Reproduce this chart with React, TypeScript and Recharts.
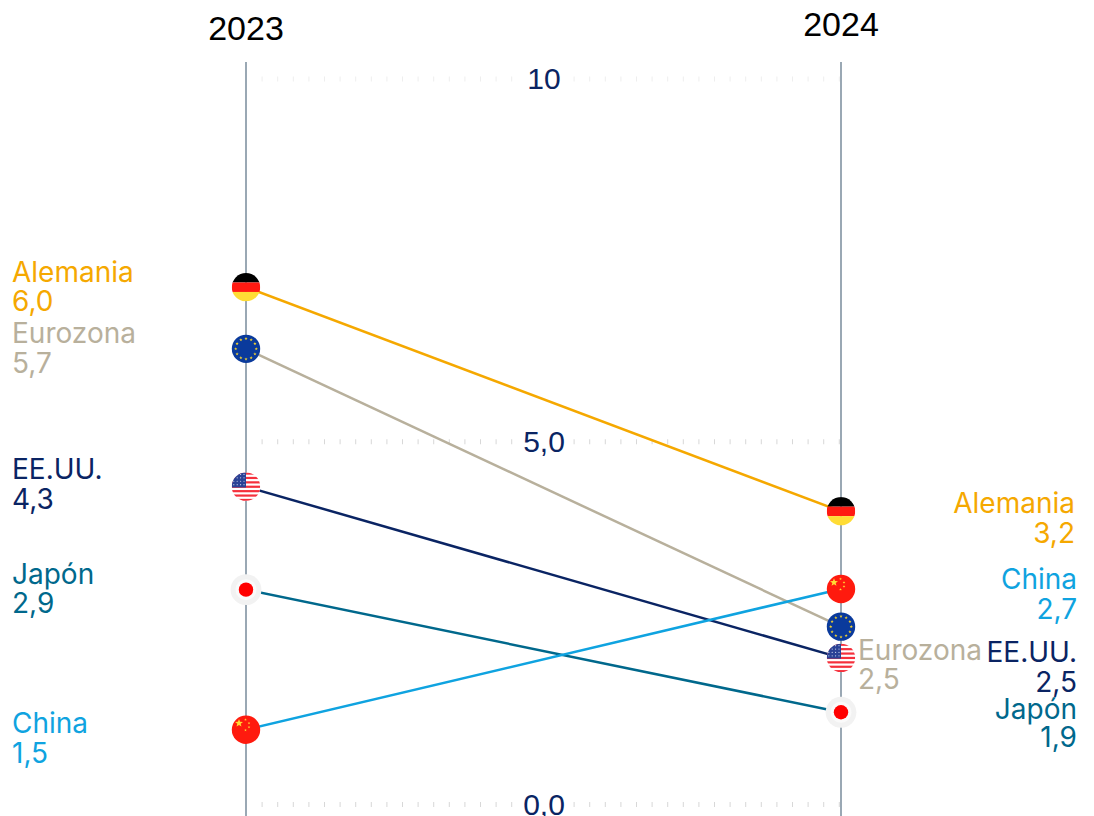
import { LineChart, Line, XAxis, YAxis, ReferenceLine } from 'recharts';

const categories = ['2023', '2024'];

// marker positions as plotted on the 0-10 axis (the printed figures differ)
const alemania = [7.13, 4.04];
const eurozona = [6.28, 2.45];
const eeuu = [4.38, 2.02];
const japon = [2.96, 1.27];
const china = [1.03, 2.97];

// figures printed next to the markers
const alemaniaLabels = ['6,0', '3,2'];
const eurozonaLabels = ['5,7', '2,5'];
const eeuuLabels = ['4,3', '2,5'];
const japonLabels = ['2,9', '1,9'];
const chinaLabels = ['1,5', '2,7'];

const axisTicks = [
  { value: 10, label: '10' },
  { value: 5, label: '5,0' },
  { value: 0, label: '0,0' },
];

const chartData = categories.map((year, i) => ({
  year,
  alemania: alemania[i],
  eurozona: eurozona[i],
  eeuu: eeuu[i],
  japon: japon[i],
  china: china[i],
}));

const FONT = 'Inter, sans-serif';
const AXIS_FONT = '"Liberation Sans", sans-serif';
const NAVY = '#0a2463';

function Star({ x, y, r, fill }: { x: number; y: number; r: number; fill: string }) {
  const pts: string[] = [];
  for (let i = 0; i < 10; i++) {
    const rad = i % 2 === 0 ? r : r * 0.42;
    const a = -Math.PI / 2 + (i * Math.PI) / 5;
    pts.push(`${x + rad * Math.cos(a)},${y + rad * Math.sin(a)}`);
  }
  return <polygon points={pts.join(' ')} fill={fill} />;
}

function Flag({ kind, cx, cy }: { kind: string; cx: number; cy: number }) {
  const id = `clip-${kind}-${Math.round(cx)}`;
  const r = 14.2;
  const clip = (
    <defs>
      <clipPath id={id}>
        <circle cx={cx} cy={cy} r={r} />
      </clipPath>
    </defs>
  );
  if (kind === 'japon') {
    return (
      <g>
        <circle cx={cx} cy={cy} r={15.4} fill="#f2f2f2" />
        <circle cx={cx} cy={cy} r={10.5} fill="#fafafa" />
        <circle cx={cx} cy={cy} r={7.2} fill="#ff0000" />
      </g>
    );
  }
  if (kind === 'alemania') {
    return (
      <g>
        {clip}
        <g clipPath={`url(#${id})`}>
          <rect x={cx - r} y={cy - r} width={2 * r} height={9.5} fill="#000" />
          <rect x={cx - r} y={cy - r + 9.5} width={2 * r} height={9.5} fill="#ff1a12" />
          <rect x={cx - r} y={cy - r + 19} width={2 * r} height={9.5} fill="#ffdc35" />
        </g>
      </g>
    );
  }
  if (kind === 'eurozona') {
    const stars = Array.from({ length: 12 }, (_, i) => (i * Math.PI) / 6);
    return (
      <g>
        <circle cx={cx} cy={cy} r={r} fill="#0a3a9c" />
        {stars.map((a, i) => (
          <Star key={i} x={cx + 10.3 * Math.cos(a)} y={cy + 10.3 * Math.sin(a)} r={1.7} fill="#f0d030" />
        ))}
      </g>
    );
  }
  if (kind === 'china') {
    return (
      <g>
        <circle cx={cx} cy={cy} r={r} fill="#ff1a0e" />
        <Star x={cx - 7} y={cy - 6.5} r={4.2} fill="#ffdc35" />
        <Star x={cx - 0.5} y={cy - 10} r={1.4} fill="#ffdc35" />
        <Star x={cx + 3} y={cy - 6.5} r={1.4} fill="#ffdc35" />
        <Star x={cx + 3} y={cy - 2.5} r={1.4} fill="#ffdc35" />
        <Star x={cx - 0.5} y={cy + 0.5} r={1.4} fill="#ffdc35" />
      </g>
    );
  }
  // EE.UU.
  const stripes = Array.from({ length: 7 }, (_, i) => i);
  const cantonDots = Array.from({ length: 16 }, (_, i) => i);
  return (
    <g>
      {clip}
      <g clipPath={`url(#${id})`}>
        <rect x={cx - r} y={cy - r} width={2 * r} height={2 * r} fill="#fff" />
        {stripes.map((i) => (
          <rect key={i} x={cx - r} y={cy - r + i * 4.4} width={2 * r} height={2.2} fill="#f5303c" />
        ))}
        <rect x={cx - r} y={cy - r} width={r} height={15} fill="#2a4296" />
        {cantonDots.map((i) => (
          <circle
            key={i}
            cx={cx - r + 2 + (i % 4) * 3.4}
            cy={cy - r + 2 + Math.floor(i / 4) * 3.4}
            r={0.6}
            fill="#c8d0e8"
          />
        ))}
      </g>
    </g>
  );
}

// where the two-line labels sit, relative to each marker: name and figure baselines
type LabelPlace = { x: number; anchor: 'start' | 'end'; name: number; value: number };

function seriesLabel(name: string, color: string, printed: string[], places: LabelPlace[]) {
  return (props: any) => {
    const place = places[props.index];
    return (
      <g key={props.index} fontFamily={FONT} fontSize={28} fill={color} textAnchor={place.anchor}>
        <text x={place.x} y={props.y + place.name}>{name}</text>
        <text x={place.x} y={props.y + place.value}>{printed[props.index]}</text>
      </g>
    );
  };
}

function YearTick({ x, payload, index }: any) {
  return (
    <text x={x} y={index === 0 ? 40 : 36} textAnchor="middle" fontFamily={AXIS_FONT} fontSize={34} fill="#000">
      {payload.value}
    </text>
  );
}

function AxisLabel({ viewBox, text }: any) {
  const midX = 544;
  const half = text.length > 2 ? 26 : 23;
  return (
    <g>
      <rect x={midX - half} y={viewBox.y - 12} width={half * 2} height={24} fill="#fff" />
      <text x={midX} y={viewBox.y + 10.5} textAnchor="middle" fontFamily={AXIS_FONT} fontSize={30} fill={NAVY}>
        {text}
      </text>
    </g>
  );
}

export default function App() {
  return (
    <div style={{ position: 'absolute', left: 0, top: 0 }}>
      <LineChart width={1094} height={816} data={chartData} margin={{ top: 32, right: 253, bottom: 0, left: 246 }}>
        <XAxis dataKey="year" orientation="top" axisLine={false} tickLine={false} interval={0} tick={(p: any) => <YearTick {...p} />} height={30} />
        <YAxis hide domain={[-0.16, 10.234]} allowDataOverflow />
        {axisTicks.map((t) => (
          <ReferenceLine
            key={t.value}
            y={t.value}
            stroke={t.value === 10 ? '#eeeeee' : '#d8d8d8'}
            strokeWidth={5}
            strokeDasharray="1 14.6"
            label={<AxisLabel text={t.label} />}
          />
        ))}
        {categories.map((c) => (
          <ReferenceLine key={c} x={c} stroke="#9aa8b4" strokeWidth={2} />
        ))}
        <Line dataKey="alemania" stroke="#f5a800" strokeWidth={2.5} isAnimationActive={false}
          dot={(p: any) => <Flag key={p.index} kind="alemania" cx={p.cx} cy={p.cy} />}
          label={seriesLabel('Alemania', '#f5a800', alemaniaLabels, [
            { x: 12, anchor: 'start', name: -5, value: 24 },
            { x: 1075, anchor: 'end', name: 2, value: 32 },
          ])} />
        <Line dataKey="eurozona" stroke="#b8b09c" strokeWidth={2.5} isAnimationActive={false}
          dot={(p: any) => <Flag key={p.index} kind="eurozona" cx={p.cx} cy={p.cy} />}
          label={seriesLabel('Eurozona', '#b8b09c', eurozonaLabels, [
            { x: 12, anchor: 'start', name: -6, value: 24 },
            { x: 858, anchor: 'start', name: 33, value: 62 },
          ])} />
        <Line dataKey="eeuu" stroke={NAVY} strokeWidth={2.5} isAnimationActive={false}
          dot={(p: any) => <Flag key={p.index} kind="eeuu" cx={p.cx} cy={p.cy} />}
          label={seriesLabel('EE.UU.', NAVY, eeuuLabels, [
            { x: 12, anchor: 'start', name: -8, value: 22 },
            { x: 1077, anchor: 'end', name: 4, value: 34 },
          ])} />
        <Line dataKey="japon" stroke="#00688c" strokeWidth={2.5} isAnimationActive={false}
          dot={(p: any) => <Flag key={p.index} kind="japon" cx={p.cx} cy={p.cy} />}
          label={seriesLabel('Japón', '#00688c', japonLabels, [
            { x: 12, anchor: 'start', name: -6, value: 23 },
            { x: 1077, anchor: 'end', name: 7, value: 35 },
          ])} />
        <Line dataKey="china" stroke="#0fa3e0" strokeWidth={2.5} isAnimationActive={false}
          dot={(p: any) => <Flag key={p.index} kind="china" cx={p.cx} cy={p.cy} />}
          label={seriesLabel('China', '#0fa3e0', chinaLabels, [
            { x: 12, anchor: 'start', name: 3, value: 33 },
            { x: 1077, anchor: 'end', name: 0, value: 30 },
          ])} />
      </LineChart>
    </div>
  );
}
